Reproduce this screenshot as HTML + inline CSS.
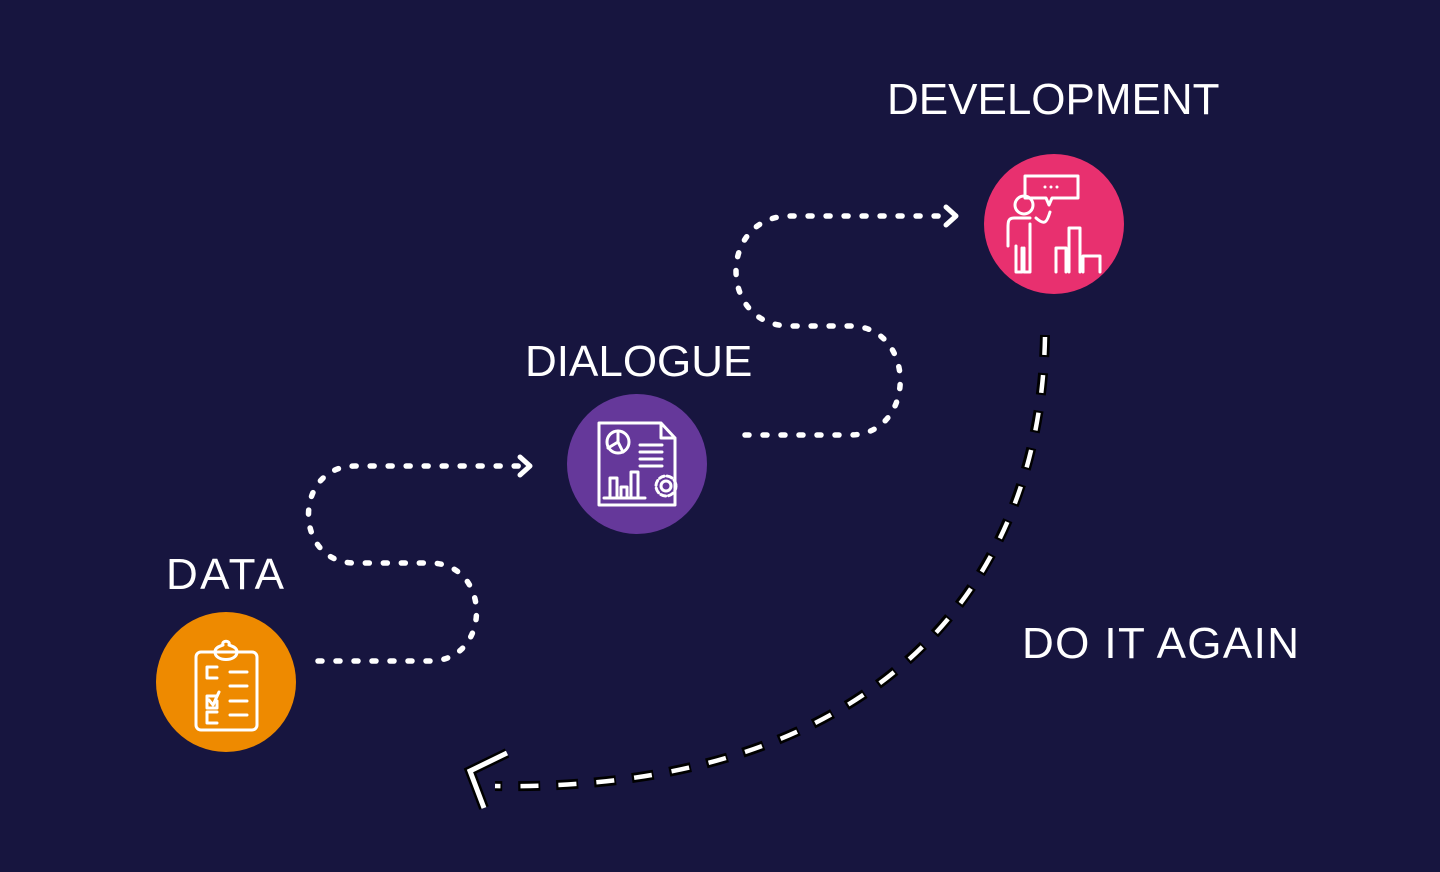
<!DOCTYPE html>
<html><head><meta charset="utf-8"><style>
html,body{margin:0;padding:0;background:#17153F;}
svg{display:block}
text{font-family:"Liberation Sans",sans-serif;fill:#fff;font-size:44px;}
</style></head><body>
<svg width="1440" height="872" viewBox="0 0 1440 872" xmlns="http://www.w3.org/2000/svg">
<rect width="1440" height="872" fill="#17153F"/>
<g fill="none" stroke="#fff" stroke-width="5.5" stroke-linecap="round" stroke-dasharray="4 14">
<path d="M318 661 H430 C492 661 492 563 430 563 H355 C293 563 293 466 355 466 H522"/>
<path d="M745 435 H850 C917 435 917 326 850 326 H790 C718 326 718 216 790 216 H948"/>
</g>
<g fill="none" stroke="#fff" stroke-width="5" stroke-linecap="round" stroke-linejoin="round">
<path d="M520 457 L530 466 L520 475"/>
<path d="M946 207 L956 216 L946 225"/>
</g>
<g fill="none" stroke-linecap="butt">
<path d="M1045 335 C1040 610 850 792 495 786" stroke="#000" stroke-width="10" stroke-dasharray="22 16"/>
<path d="M1045 337 C1040 610 850 792 495 786" stroke="#fff" stroke-width="4.5" stroke-dasharray="18 20"/>
<path d="M507 753 L470 771 L484 808" stroke="#000" stroke-width="10" stroke-linejoin="miter"/>
<path d="M507 753 L470 771 L484 808" stroke="#fff" stroke-width="5" stroke-linejoin="miter"/>
</g>
<circle cx="226" cy="682" r="70" fill="#EE8A00"/>
<circle cx="637" cy="464" r="70" fill="#65389A"/>
<circle cx="1054" cy="224" r="70" fill="#E8306F"/>
<g fill="none" stroke="#fff" stroke-width="3" stroke-linecap="round" stroke-linejoin="round">
<rect x="196" y="652" width="61" height="78" rx="5"/>
<path d="M215 652 C215 662 237 662 237 652 C237 647 231 646 229 645 C231 640 221 640 223 645 C221 646 215 647 215 652Z"/>
<path d="M217 667 H207 V678 H217 M217 696 H207 V708 H217 V701 M217 712 H207 V723 H217"/>
<path d="M209 700 L213 705 L219 692"/>
<path d="M230 672 H247 M230 686 H247 M230 701 H247 M230 715 H247"/>
<path d="M599 423 H661 L675 438 V505 H599 Z M661 423 V438 H675"/>
<circle cx="618" cy="442" r="11"/>
<path d="M618 442 L618 431 M618 442 L608 448 M618 442 L623 452"/>
<path d="M640 445 H662 M640 452 H662 M640 459 H662 M640 466 H662"/>
<path d="M604 498 H645 M610 498 V478 H617 V498 M621 498 V487 H627 V498 M631 498 V472 H638 V498"/>
<circle cx="666" cy="486" r="5"/>
<circle cx="666" cy="486" r="10" stroke-dasharray="5 3"/>
<path d="M1025 176 H1078 V198 H1052 L1049 205 L1046 198 H1025 Z"/>
<circle cx="1024" cy="205" r="9"/>
<path d="M1036 218 C1045 226 1047 222 1050 212 M1030 218 H1014 C1008 218 1008 222 1008 228 V246 M1016 246 V272 H1022 V248 M1024 248 V272 H1030 V224"/>
<path d="M1056 272 V248 H1066 V272 M1069 272 V228 H1080 V272 M1083 272 V256 H1100 V272"/>
</g>
<g fill="#fff"><circle cx="1045" cy="187" r="1.5"/><circle cx="1051" cy="187" r="1.5"/><circle cx="1057" cy="187" r="1.5"/></g>
<text x="166" y="589" textLength="118" lengthAdjust="spacing">DATA</text>
<text x="525" y="376">DIALOGUE</text>
<text x="887" y="114">DEVELOPMENT</text>
<text x="1022" y="658" textLength="277" lengthAdjust="spacing">DO IT AGAIN</text>
</svg>
</body></html>
